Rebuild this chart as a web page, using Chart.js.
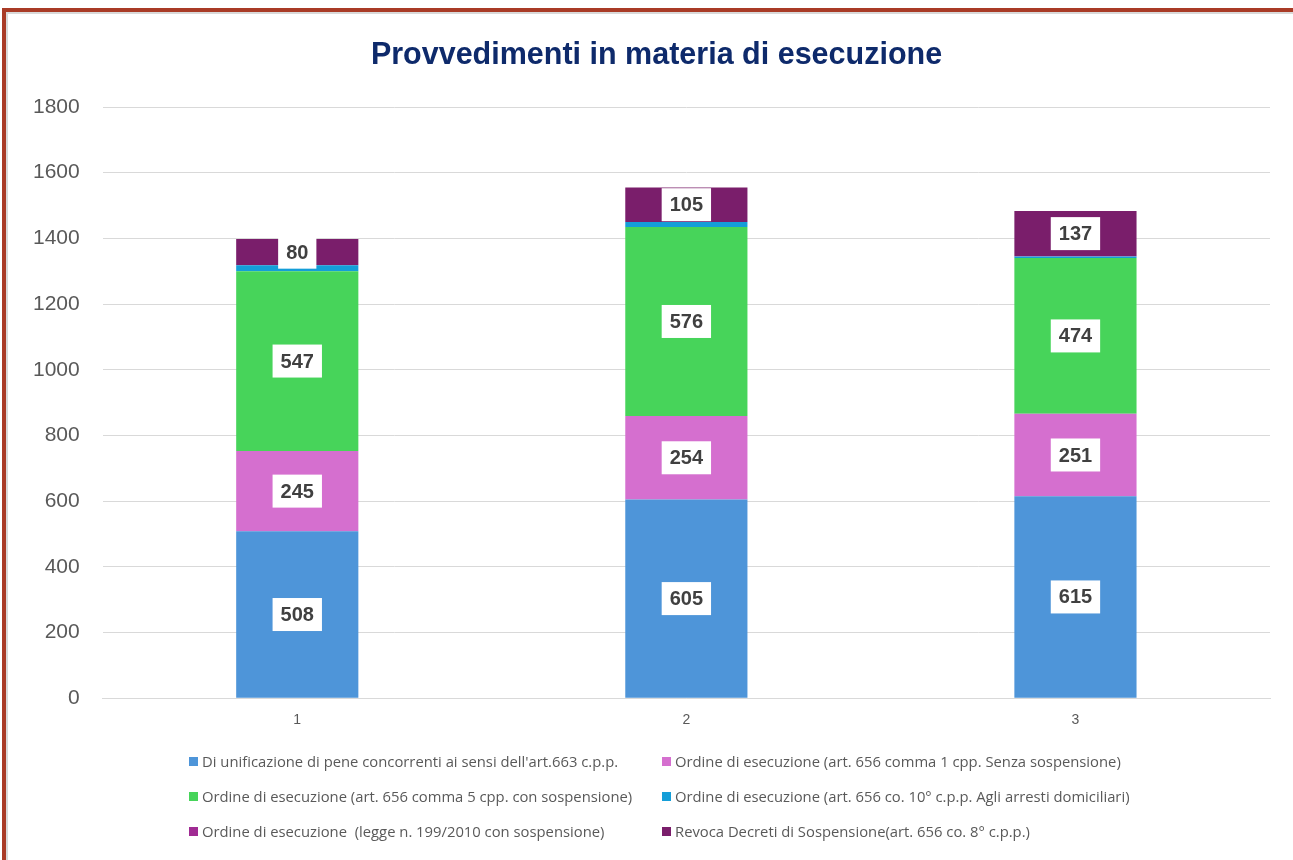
<!DOCTYPE html>
<html>
<head>
<meta charset="utf-8">
<script src="https://cdn.jsdelivr.net/npm/chart.js@4/dist/chart.umd.min.js"></script>
<style>
  html, body { margin: 0; padding: 0; background: #fff; width: 1293px; height: 860px; overflow: hidden; }
  #frame { position: absolute; left: 2px; top: 8px; width: 1400px; height: 900px;
           border-top: 4px solid #A93B26; border-left: 4px solid #A93B26;
           box-shadow: inset 2px 2px 0 #d9d9d9; }
  #wrap { position: absolute; left: 0; top: 0; width: 1293px; height: 760px; }
  #legend { position: absolute; left: 189px; top: 751px; display: grid;
            grid-template-columns: 473px 480px; row-gap: 15px;
            font-family: "Open Sans", "Liberation Sans", sans-serif; font-size: 14.8px; color: #595959; }
  .li { display: flex; align-items: center; height: 20px; white-space: pre; }
  .sw { width: 9px; height: 9px; margin-right: 4px; flex: none; }
</style>
</head>
<body>
<div id="frame"></div>
<div id="wrap"><canvas id="c" width="1293" height="760"></canvas></div>
<div id="legend"></div>
<script>
const chartTitle = "Provvedimenti in materia di esecuzione";
const categories = ["1", "2", "3"];
const seriesNames = [
  "Di unificazione di pene concorrenti ai sensi dell'art.663 c.p.p.",
  "Ordine di esecuzione (art. 656 comma 1 cpp. Senza sospensione)",
  "Ordine di esecuzione (art. 656 comma 5 cpp. con sospensione)",
  "Ordine di esecuzione (art. 656 co. 10° c.p.p. Agli arresti domiciliari)",
  "Ordine di esecuzione  (legge n. 199/2010 con sospensione)",
  "Revoca Decreti di Sospensione(art. 656 co. 8° c.p.p.)"
];
const unificazione = [508, 605, 615];
const senzaSospensione = [245, 254, 251];
const conSospensione = [547, 576, 474];
const arrestiDomiciliari = [18, 15, 5];
const legge199 = [0, 0, 1];
const revoca = [80, 105, 137];
const seriesColors = ["#4E95D9", "#D56FCF", "#47D45A", "#149ED8", "#A02B93", "#7A1E6B"];
const labelledSeries = [0, 1, 2, 5];
const yTicks = [0, 200, 400, 600, 800, 1000, 1200, 1400, 1600, 1800];

const values = [unificazione, senzaSospensione, conSospensione, arrestiDomiciliari, legge199, revoca];

const datasets = values.map((v, i) => ({
  label: seriesNames[i],
  data: v,
  backgroundColor: seriesColors[i],
  borderWidth: 0,
  barPercentage: 0.314,
  categoryPercentage: 1.0
}));

const FONT = '"Liberation Sans", Arial, sans-serif';

const titlePlugin = {
  id: 'offsetTitle',
  afterDraw(chart) {
    const ctx = chart.ctx;
    ctx.save();
    ctx.font = 'bold 30.5px ' + FONT;
    ctx.fillStyle = '#0E2A6B';
    ctx.textAlign = 'center';
    ctx.textBaseline = 'middle';
    ctx.fillText(chartTitle, 656.5, 56);
    ctx.restore();
  }
};

const labelPlugin = {
  id: 'boxLabels',
  afterDatasetsDraw(chart) {
    const ctx = chart.ctx;
    ctx.save();
    ctx.font = 'bold 20px ' + FONT;
    ctx.textAlign = 'center';
    ctx.textBaseline = 'middle';
    labelledSeries.forEach(di => {
      const meta = chart.getDatasetMeta(di);
      meta.data.forEach((el, i) => {
        const txt = String(chart.data.datasets[di].data[i]);
        const cy = (el.y + el.base) / 2;
        const w = ctx.measureText(txt).width + 16;
        const h = 33;
        ctx.fillStyle = '#ffffff';
        ctx.fillRect(el.x - w / 2, cy - h / 2, w, h);
        ctx.fillStyle = '#404040';
        ctx.fillText(txt, el.x, cy + 1);
      });
    });
    ctx.restore();
  }
};

new Chart(document.getElementById('c'), {
  type: 'bar',
  data: { labels: categories, datasets },
  options: {
    responsive: false,
    animation: false,
    layout: { padding: { top: 107, left: 10, right: 23, bottom: 25 } },
    plugins: {
      legend: { display: false },
      tooltip: { enabled: false },
      title: { display: false }
    },
    scales: {
      x: {
        stacked: true,
        grid: { display: false },
        border: { display: true, color: '#d9d9d9', width: 1 },
        ticks: { color: '#595959', font: { family: FONT, size: 14 }, padding: 6 }
      },
      y: {
        stacked: true,
        min: 0, max: 1800,
        afterBuildTicks(axis) { axis.ticks = yTicks.map(v => ({ value: v })); },
        grid: { color: '#d9d9d9', drawTicks: false },
        border: { display: false },
        ticks: { color: '#595959', font: { family: FONT, size: 21 }, padding: 23,
                 callback: v => String(v) }
      }
    }
  },
  plugins: [labelPlugin, titlePlugin]
});

const leg = document.getElementById('legend');
seriesNames.forEach((n, i) => {
  const d = document.createElement('div');
  d.className = 'li';
  const s = document.createElement('span');
  s.className = 'sw';
  s.style.background = seriesColors[i];
  d.appendChild(s);
  d.appendChild(document.createTextNode(n));
  leg.appendChild(d);
});
</script>
</body>
</html>
